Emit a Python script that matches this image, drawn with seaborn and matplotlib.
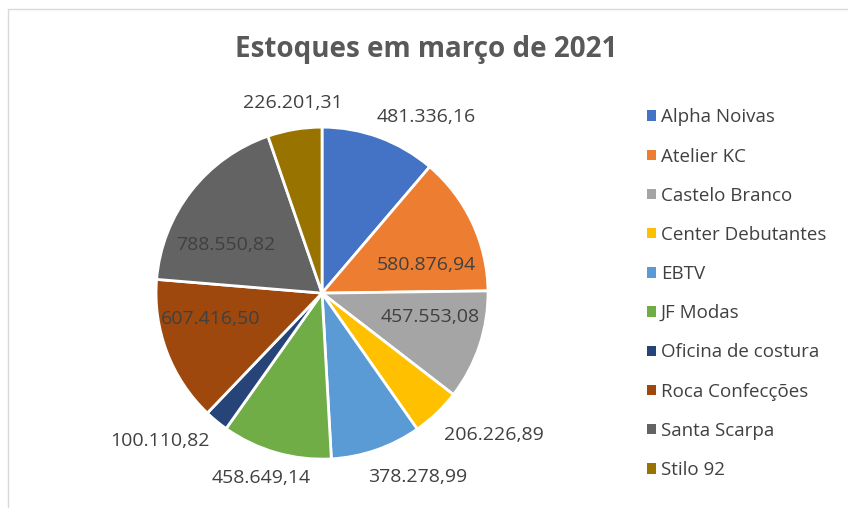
import numpy as np
import seaborn as sns
import matplotlib.pyplot as plt
from matplotlib.lines import Line2D
from matplotlib.patches import Patch

# Data
lojas = ["Alpha Noivas", "Atelier KC", "Castelo Branco", "Center Debutantes", "EBTV",
         "JF Modas", "Oficina de costura", "Roca Confecções", "Santa Scarpa", "Stilo 92"]
estoques = [481336.16, 580876.94, 457553.08, 206226.89, 378278.99,
            458649.14, 100110.82, 607416.50, 788550.82, 226201.31]
rotulos = ["481.336,16", "580.876,94", "457.553,08", "206.226,89", "378.278,99",
           "458.649,14", "100.110,82", "607.416,50", "788.550,82", "226.201,31"]
titulo = "Estoques em março de 2021"

cores = ["#4472C4", "#ED7D31", "#A5A5A5", "#FFC000", "#5B9BD5",
         "#70AD47", "#264478", "#9E480E", "#636363", "#997300"]

# label placement (radius factor, angle shift in degrees, clockwise from top)
lab_r = [1.23, 0.65, 0.67, 1.34, 1.25, 1.17, 1.32, 0.69, 0.65, 1.16]
lab_da = [10.4, 10.1, -6.1, -6.8, -8.2, 2.2, 8.1, 7.7, -11.6, 0.8]

sns.set_style("white")
plt.rcParams["font.family"] = ["Open Sans", "DejaVu Sans"]

fig = plt.figure(figsize=(8.48, 5.08), dpi=100)
ax = fig.add_axes([0.184, 0.096, 0.3915, 0.654])

wedges, _ = ax.pie(estoques, colors=cores, startangle=90, counterclock=False,
                   wedgeprops=dict(edgecolor="white", linewidth=2))
ax.set_aspect("equal")
ax.set_xlim(-1, 1)
ax.set_ylim(-1, 1)

# data labels
for w, txt, r, da in zip(wedges, rotulos, lab_r, lab_da):
    mid = (w.theta1 + w.theta2) / 2 - da  # matplotlib angle (ccw from x)
    x = r * np.cos(np.radians(mid))
    y = r * np.sin(np.radians(mid))
    ax.text(x, y, txt, ha="center", va="center", fontsize=14, color="#404040")

fig.text(0.502, 0.903, titulo, ha="center", va="center", fontsize=20,
         fontweight="bold", color="#595959")

handles = [Patch(facecolor=c, edgecolor="none") for c in cores]
leg = fig.legend(handles, lojas, loc="upper left", bbox_to_anchor=(0.743, 0.82),
                 frameon=False, fontsize=13.5, handlelength=0.48, handleheight=0.48,
                 handletextpad=0.25, labelspacing=1.13, labelcolor="#404040")

# chart area border (top and left edges visible)
fig.add_artist(Line2D([0.0095, 1.0], [0.982, 0.982], transform=fig.transFigure,
                      color="#d9d9d9", linewidth=1))
fig.add_artist(Line2D([0.0095, 0.0095], [0.0, 0.982], transform=fig.transFigure,
                      color="#d9d9d9", linewidth=1))

plt.savefig("out.png", dpi=100)
